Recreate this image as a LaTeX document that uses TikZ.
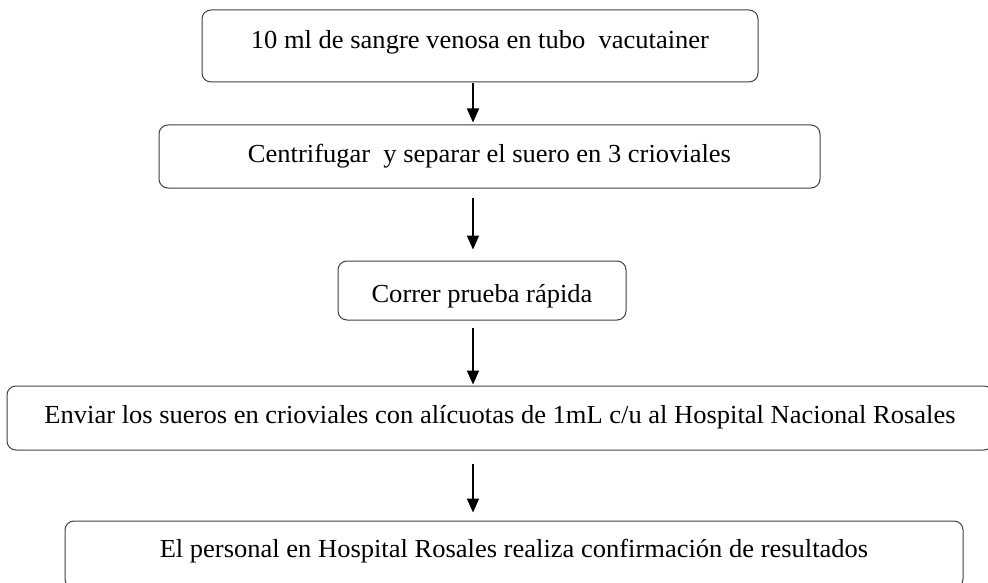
\documentclass[tikz,border=0pt]{standalone}
\usepackage{fontspec}
\setmainfont{Liberation Serif}[FakeStretch=1.02]
\usetikzlibrary{arrows.meta}

\begin{document}
\begin{tikzpicture}[x=1pt,y=-1pt,
  paso/.style={draw=black!75, line width=1pt, rounded corners=9pt, inner sep=0pt,
    text height=20pt, font=\fontsize{26}{31}\selectfont},
  flecha/.style={line width=1.6pt, -{Triangle[length=14pt,width=12pt]}}]
\useasboundingbox (0,0) rectangle (988,583);

% pasos del procedimiento
\node[paso, minimum width=556pt, minimum height=72pt, text depth=15pt] (muestra) at (480,46)
  {10 ml de sangre venosa en tubo\ \ vacutainer};
\node[paso, minimum width=661pt, minimum height=63pt, text depth=7pt] (centri) at (489.5,156.5)
  {Centrifugar\ \ y separar el suero en 3 crioviales};
\node[paso, minimum width=288pt, minimum height=59pt, text height=26pt, text depth=3pt] (prueba) at (482,290.5)
  {Correr prueba rápida};
\node[paso, minimum width=986pt, minimum height=64pt, text depth=9pt] (envio) at (500,418)
  {Enviar los sueros en crioviales con alícuotas de 1mL c/u al Hospital Nacional Rosales};
\node[paso, minimum width=898pt, minimum height=67pt, text depth=14pt] (confirma) at (514,554.5)
  {El personal en Hospital Rosales realiza confirmación de resultados};

% eje comun de las flechas
\coordinate (eje) at (473,0);

\draw[flecha, shorten <=0.5pt, shorten >=2pt] (eje |- muestra.south) -- (eje |- centri.north);
\draw[flecha, shorten <=9pt, shorten >=11pt] (eje |- centri.south) -- (eje |- prueba.north);
\draw[flecha, shorten <=7pt, shorten >=1pt] (eje |- prueba.south) -- (eje |- envio.north);
\draw[flecha, shorten <=13pt, shorten >=8pt] (eje |- envio.south) -- (eje |- confirma.north);

\end{tikzpicture}
\end{document}
